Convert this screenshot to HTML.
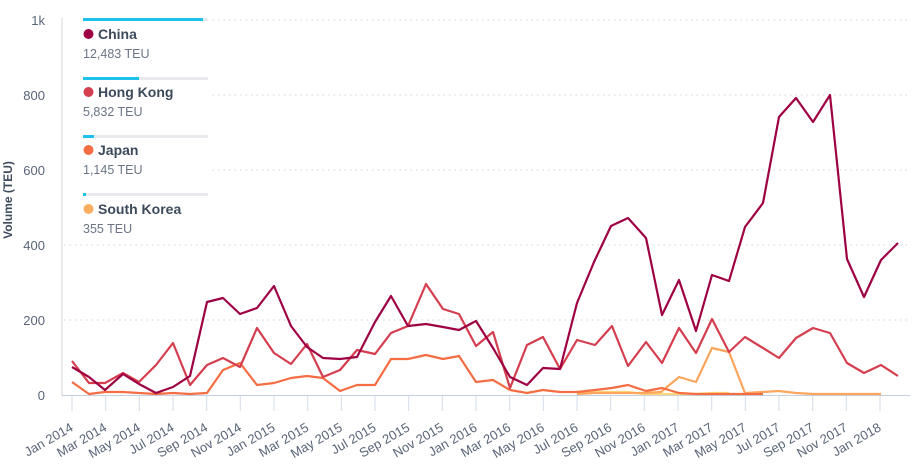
<!DOCTYPE html>
<html><head><meta charset="utf-8"><style>
body{margin:0;background:#fff;width:914px;height:471px;overflow:hidden;font-family:"Liberation Sans",sans-serif}
</style></head><body>
<svg width="914" height="471" viewBox="0 0 914 471" xmlns="http://www.w3.org/2000/svg" font-family="Liberation Sans, sans-serif">
<g stroke="#cfd3d8" stroke-dasharray="1.5,4" stroke-width="1">
<line x1="64" y1="20" x2="910" y2="20"/><line x1="64" y1="95" x2="910" y2="95"/><line x1="64" y1="170" x2="910" y2="170"/><line x1="64" y1="245" x2="910" y2="245"/><line x1="64" y1="320" x2="910" y2="320"/>
</g>
<line x1="62" y1="18" x2="62" y2="396" stroke="#cfd3d8"/>
<line x1="62" y1="395.5" x2="910" y2="395.5" stroke="#c5cfe0"/>
<g fill="#5a6478" font-size="13" text-anchor="end">
<text x="45" y="25">1k</text><text x="45" y="100">800</text><text x="45" y="175">600</text><text x="45" y="250">400</text><text x="45" y="325">200</text><text x="45" y="400">0</text>
</g>
<text transform="translate(12,200) rotate(-90)" text-anchor="middle" font-size="12" font-weight="bold" fill="#3d4a5c">Volume (TEU)</text>
<g stroke="#d3dcea" stroke-width="1">
<line x1="72" y1="396" x2="72" y2="411"/><line x1="105.7" y1="396" x2="105.7" y2="411"/><line x1="139.3" y1="396" x2="139.3" y2="411"/><line x1="173" y1="396" x2="173" y2="411"/><line x1="206.7" y1="396" x2="206.7" y2="411"/><line x1="240.3" y1="396" x2="240.3" y2="411"/><line x1="274" y1="396" x2="274" y2="411"/><line x1="307.7" y1="396" x2="307.7" y2="411"/><line x1="341.3" y1="396" x2="341.3" y2="411"/><line x1="375" y1="396" x2="375" y2="411"/><line x1="408.7" y1="396" x2="408.7" y2="411"/><line x1="442.3" y1="396" x2="442.3" y2="411"/><line x1="476" y1="396" x2="476" y2="411"/><line x1="509.7" y1="396" x2="509.7" y2="411"/><line x1="543.3" y1="396" x2="543.3" y2="411"/><line x1="577" y1="396" x2="577" y2="411"/><line x1="610.7" y1="396" x2="610.7" y2="411"/><line x1="644.3" y1="396" x2="644.3" y2="411"/><line x1="678" y1="396" x2="678" y2="411"/><line x1="711.7" y1="396" x2="711.7" y2="411"/><line x1="745.3" y1="396" x2="745.3" y2="411"/><line x1="779" y1="396" x2="779" y2="411"/><line x1="812.7" y1="396" x2="812.7" y2="411"/><line x1="846.3" y1="396" x2="846.3" y2="411"/><line x1="880" y1="396" x2="880" y2="411"/>
</g>
<g fill="#5a6478" font-size="13" text-anchor="end">
<text transform="translate(74,430) rotate(-30)">Jan 2014</text>
<text transform="translate(107.7,430) rotate(-30)">Mar 2014</text>
<text transform="translate(141.3,430) rotate(-30)">May 2014</text>
<text transform="translate(175,430) rotate(-30)">Jul 2014</text>
<text transform="translate(208.7,430) rotate(-30)">Sep 2014</text>
<text transform="translate(242.3,430) rotate(-30)">Nov 2014</text>
<text transform="translate(276,430) rotate(-30)">Jan 2015</text>
<text transform="translate(309.7,430) rotate(-30)">Mar 2015</text>
<text transform="translate(343.3,430) rotate(-30)">May 2015</text>
<text transform="translate(377,430) rotate(-30)">Jul 2015</text>
<text transform="translate(410.7,430) rotate(-30)">Sep 2015</text>
<text transform="translate(444.3,430) rotate(-30)">Nov 2015</text>
<text transform="translate(478,430) rotate(-30)">Jan 2016</text>
<text transform="translate(511.7,430) rotate(-30)">Mar 2016</text>
<text transform="translate(545.3,430) rotate(-30)">May 2016</text>
<text transform="translate(579,430) rotate(-30)">Jul 2016</text>
<text transform="translate(612.7,430) rotate(-30)">Sep 2016</text>
<text transform="translate(646.3,430) rotate(-30)">Nov 2016</text>
<text transform="translate(680,430) rotate(-30)">Jan 2017</text>
<text transform="translate(713.7,430) rotate(-30)">Mar 2017</text>
<text transform="translate(747.3,430) rotate(-30)">May 2017</text>
<text transform="translate(781,430) rotate(-30)">Jul 2017</text>
<text transform="translate(814.7,430) rotate(-30)">Sep 2017</text>
<text transform="translate(848.3,430) rotate(-30)">Nov 2017</text>
<text transform="translate(882,430) rotate(-30)">Jan 2018</text>
</g>
<g fill="none" stroke-width="2.2" stroke-linejoin="round">
<polyline stroke="#fdd77a" points="577,393 594,392 611,392 628,392 644,394 661,394 678,394 695,394 712,393 729,393"/>
<polyline stroke="#fca55d" points="577,394 594,393 611,393 628,393 644,393 661,392 679,377 696,382 712,348 729,352 745,393 763,392 779,391 796,393 813,394 830,394 847,394 864,394 881,394"/>
<polyline stroke="#f46d43" points="72,382 89,394 105,392 123,392 139,393 156,394 173,393 190,394 207,393 223,370 240,363 257,385 274,383 291,378 307,376 323,378 340,391 357,385 375,385 391,359 408,359 426,355 443,359 459,356 476,382 493,380 510,390 527,393 543,390 560,392 577,392 595,390 612,388 628,385 646,391 662,388 679,393 696,394 712,394 729,394 745,394 763,394"/>
<polyline stroke="#d53e4f" points="72,361 89,383 105,383 123,373 139,382 156,365 173,343 190,385 207,365 223,358 240,367 257,328 274,353 291,364 307,344 323,377 340,370 357,350 375,354 391,333 408,326 426,284 443,309 459,314 476,346 493,332 510,388 527,345 543,337 560,369 577,340 595,345 612,326 628,366 646,342 662,363 679,328 696,353 712,319 729,352 745,337 763,348 779,358 796,338 813,328 830,333 847,363 864,373 881,365 898,376"/>
<polyline stroke="#9e0142" points="72,367 89,377 105,390 123,374 139,384 156,393 173,387 190,376 207,302 223,298 240,314 257,308 274,286 291,326 307,347 323,358 340,359 357,357 375,322 391,296 408,326 426,324 443,327 459,330 476,321 493,348 510,377 527,385 543,368 560,369 577,303 594,262 611,226 628,218 646,238 662,315 679,280 696,331 712,275 729,281 745,227 763,203 779,117 796,98 813,122 830,95 847,259 864,297 881,260 898,243"/>
</g>
<rect x="64" y="12" width="148" height="230" fill="#fff"/>
<g>
<rect x="83" y="18" width="125" height="3" fill="#e8eaed"/><rect x="83" y="18" width="120" height="3" fill="#1ec0ec"/>
<circle cx="88.5" cy="34" r="5" fill="#9e0142"/><text x="98" y="39" font-size="14" font-weight="bold" fill="#3d4a5c">China</text>
<text x="83" y="58" font-size="12.5" fill="#6b7585">12,483 TEU</text>
<rect x="83" y="77" width="125" height="3" fill="#e8eaed"/><rect x="83" y="77" width="56" height="3" fill="#1ec0ec"/>
<circle cx="88.5" cy="92" r="5" fill="#d53e4f"/><text x="98" y="97" font-size="14" font-weight="bold" fill="#3d4a5c">Hong Kong</text>
<text x="83" y="116" font-size="12.5" fill="#6b7585">5,832 TEU</text>
<rect x="83" y="135" width="125" height="3" fill="#e8eaed"/><rect x="83" y="135" width="11" height="3" fill="#1ec0ec"/>
<circle cx="88.5" cy="150" r="5" fill="#f46d43"/><text x="98" y="155" font-size="14" font-weight="bold" fill="#3d4a5c">Japan</text>
<text x="83" y="174" font-size="12.5" fill="#6b7585">1,145 TEU</text>
<rect x="83" y="193" width="125" height="3" fill="#e8eaed"/><rect x="83" y="193" width="3" height="3" fill="#1ec0ec"/>
<circle cx="88.5" cy="209" r="5" fill="#fdae61"/><text x="98" y="214" font-size="14" font-weight="bold" fill="#3d4a5c">South Korea</text>
<text x="83" y="233" font-size="12.5" fill="#6b7585">355 TEU</text>
</g>
</svg>
</body></html>
